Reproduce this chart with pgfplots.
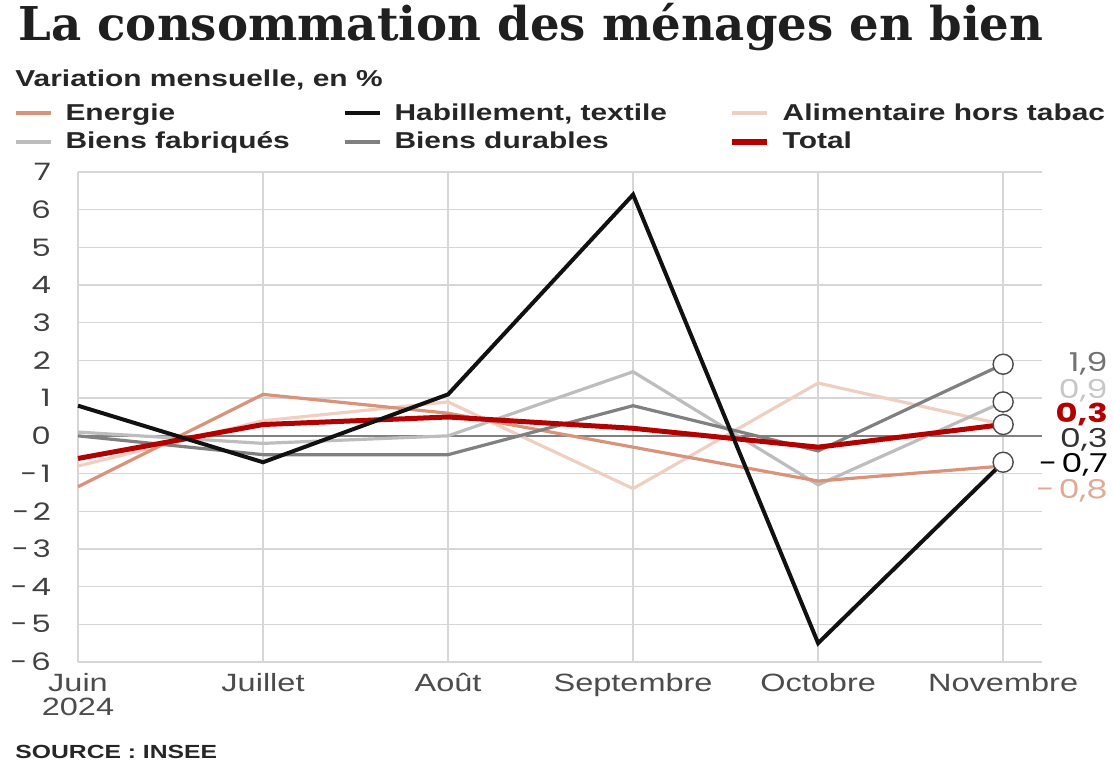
\documentclass[border=0pt]{standalone}
\usepackage{fontspec}
\setmainfont{Liberation Sans}[FakeStretch=1.3]
\newfontfamily\titlefont{DejaVu Serif}
\newfontfamily\numfont{Poppins}[FakeStretch=1.3]
\usepackage{pgfplots}
\pgfplotsset{compat=1.18}

\definecolor{energie}{HTML}{D9937B}
\definecolor{habill}{HTML}{111111}
\definecolor{alim}{HTML}{EFCFC2}
\definecolor{fabr}{HTML}{BDBDBD}
\definecolor{durab}{HTML}{808080}
\definecolor{total}{HTML}{B30000}
\definecolor{gridc}{HTML}{D6D6D6}

\begin{document}
\begin{tikzpicture}[x=1pt,y=1pt]
\useasboundingbox (-39,-49) rectangle (517.5,331);
\node[anchor=west, inner sep=0pt, text=black!88] at (-30,317.5) {\titlefont\bfseries\fontsize{23.3}{25}\selectfont La consommation des ménages en bien};
\node[anchor=west, inner sep=0pt, text=black!85] at (-31.5,291) {\bfseries\fontsize{11.5}{12}\selectfont Variation mensuelle, en \%};
\node[anchor=west, inner sep=0pt, text=black!85] at (-31.5,-45) {\bfseries\fontsize{9.5}{10}\selectfont SOURCE : INSEE};
\begin{axis}[
  at={(0,0)}, anchor=south west,
  scale only axis, width=482pt, height=245pt,
  xmin=0, xmax=5.21, ymin=-6, ymax=7,
  xtick={0,...,5},
  xticklabels={{Juin\\2024},Juillet,Août,Septembre,Octobre,Novembre},
  ytick={-6,...,7},
  yticklabels={−\,6,−\,5,−\,4,−\,3,−\,2,−\,1,0,1,2,3,4,5,6,7},
  axis line style={draw=none},
  major tick length=0pt,
  grid=major, grid style={gridc, line width=0.7pt},
  xticklabel style={align=center, font=\fontsize{12.5}{12}\selectfont, text=black!70, yshift=-2pt},
  yticklabel style={font=\numfont\fontsize{12}{12}\selectfont, text=black!75, xshift=-10pt},
  clip=false,
  legend columns=3,
  legend cell align=left,
  legend style={draw=none, fill=none, at={(axis description cs:-0.0735,1.153)}, anchor=north west,
    column sep=0pt, row sep=2.5pt,
    nodes={inner xsep=0pt, inner ysep=1pt, font=\bfseries\fontsize{11.5}{12}\selectfont, text=black!85}},
  legend image code/.code={\draw[#1] (0pt,0pt) -- (17.5pt,0pt); \path (24pt,0pt);},
]
\addlegendimage{energie, line width=2pt}
\addlegendentry{\makebox[138.5pt][l]{Energie}}
\addlegendimage{habill, line width=2pt}
\addlegendentry{\makebox[167.5pt][l]{Habillement, textile}}
\addlegendimage{alim, line width=2pt}
\addlegendentry{Alimentaire hors tabac}
\addlegendimage{fabr, line width=2pt}
\addlegendentry{\makebox[138.5pt][l]{Biens fabriqués}}
\addlegendimage{durab, line width=2pt}
\addlegendentry{\makebox[167.5pt][l]{Biens durables}}
\addlegendimage{total, line width=2.6pt}
\addlegendentry{Total}

% zero line
\addplot[forget plot, durab, line width=0.7pt] coordinates {(0,0) (5.21,0)};

\addplot[forget plot, alim, line width=1.6pt] coordinates {(0,-0.8) (1,0.4) (2,0.9) (3,-1.4) (4,1.4) (5,0.3)};
\addplot[forget plot, fabr, line width=1.6pt] coordinates {(0,0.1) (1,-0.2) (2,0.0) (3,1.7) (4,-1.3) (5,0.9)};
\addplot[forget plot, energie, line width=1.6pt] coordinates {(0,-1.35) (1,1.1) (2,0.6) (3,-0.3) (4,-1.2) (5,-0.8)};
\addplot[forget plot, durab, line width=1.6pt] coordinates {(0,0.0) (1,-0.5) (2,-0.5) (3,0.8) (4,-0.4) (5,1.9)};
\addplot[forget plot, total, line width=2.5pt] coordinates {(0,-0.6) (1,0.3) (2,0.5) (3,0.2) (4,-0.3) (5,0.3)};
\addplot[forget plot, habill, line width=2pt] coordinates {(0,0.8) (1,-0.7) (2,1.1) (3,6.4) (4,-5.5) (5,-0.7)};

% end markers
\addplot[forget plot, only marks, mark=*, mark size=5pt, mark options={fill=white, draw=black!70, line width=0.7pt}]
  coordinates {(5,1.9) (5,0.9) (5,0.3) (5,-0.7)};

\tikzset{vlab/.style={anchor=east, inner sep=0pt, xshift=52.5pt, font=\numfont\fontsize{13}{14}\selectfont}}
\node[vlab, text=black!55] at (axis cs:5,1.92) {1,9};
\node[vlab, text=black!22] at (axis cs:5,1.2) {0,9};
\node[vlab, text=total, font=\numfont\bfseries\fontsize{13}{14}\selectfont] at (axis cs:5,0.56) {0,3};
\node[vlab, text=black!80] at (axis cs:5,-0.1) {0,3};
\node[vlab, text=black] at (axis cs:5,-0.76) {−\,0,7};
\node[vlab, text=energie!80] at (axis cs:5,-1.45) {−\,0,8};
\end{axis}
\end{tikzpicture}
\end{document}
